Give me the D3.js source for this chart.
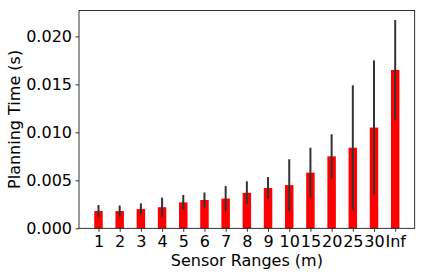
<!DOCTYPE html>
<html>
<head>
<meta charset="utf-8">
<script src="https://cdn.jsdelivr.net/npm/d3@7"></script>
<style>
  html, body { margin: 0; padding: 0; background: #fff; }
  svg { display: block; }
  text { font-family: "DejaVu Sans", sans-serif; fill: #000; }
</style>
</head>
<body>
<script>
const categories = ["1", "2", "3", "4", "5", "6", "7", "8", "9", "10", "15", "20", "25", "30", "Inf"];
const means = [0.0018, 0.0018, 0.0020, 0.0022, 0.0027, 0.00295, 0.0031, 0.0037, 0.0042, 0.0045, 0.0058, 0.0075, 0.0084, 0.0105, 0.0165];
const errors = [0.00063, 0.00058, 0.0006, 0.0010, 0.00078, 0.00078, 0.0013, 0.0012, 0.00115, 0.0027, 0.0026, 0.0023, 0.0065, 0.0070, 0.0052];
const yTicks = [0, 0.005, 0.010, 0.015, 0.020];

const W = 424, H = 276;
const L = 79, R = 414.7, T = 10.5, B = 228.3;

const svg = d3.select("body").append("svg").attr("width", W).attr("height", H);

const x = d3.scaleLinear().domain([-0.92, categories.length - 1 + 0.92]).range([L, R]);
const y = d3.scaleLinear().domain([0, 0.0227]).range([B, T]);
const bw = 0.4;

const data = categories.map((c, i) => ({ c, i, m: means[i], e: errors[i] }));

svg.append("g").selectAll("rect").data(data).enter().append("rect")
  .attr("x", d => x(d.i - bw / 2))
  .attr("width", d => x(d.i + bw / 2) - x(d.i - bw / 2))
  .attr("y", d => y(d.m))
  .attr("height", d => y(0) - y(d.m))
  .attr("fill", "#ff0000");

svg.append("g").selectAll("line").data(data).enter().append("line")
  .attr("x1", d => x(d.i)).attr("x2", d => x(d.i))
  .attr("y1", d => y(d.m - d.e)).attr("y2", d => y(d.m + d.e))
  .attr("stroke", "#333").attr("stroke-width", 2);

// frame
svg.append("rect").attr("x", L).attr("y", T).attr("width", R - L).attr("height", B - T)
  .attr("fill", "none").attr("stroke", "#000").attr("stroke-width", 0.8);

const yAxis = svg.append("g").attr("transform", `translate(${L},0)`)
  .call(d3.axisLeft(y).tickValues(yTicks).tickFormat(d3.format(".3f")).tickSize(3.5).tickPadding(3.5));
const xAxis = svg.append("g").attr("transform", `translate(0,${B})`)
  .call(d3.axisBottom(x).tickValues(data.map(d => d.i)).tickFormat(i => categories[i]).tickSize(3.5).tickPadding(3.5));

[yAxis, xAxis].forEach(a => {
  a.select(".domain").remove();
  a.selectAll(".tick line").attr("stroke", "#000").attr("stroke-width", 0.8);
  a.selectAll(".tick text").attr("font-size", 16).attr("font-family", "DejaVu Sans, sans-serif").attr("fill", "#000");
});

svg.append("text").attr("x", (L + R) / 2).attr("y", 266).attr("text-anchor", "middle")
  .attr("font-size", 16).text("Sensor Ranges (m)");
svg.append("text").attr("transform", `translate(20,${(T + B) / 2}) rotate(-90)`).attr("text-anchor", "middle")
  .attr("font-size", 16).text("Planning Time (s)");
</script>
</body>
</html>
